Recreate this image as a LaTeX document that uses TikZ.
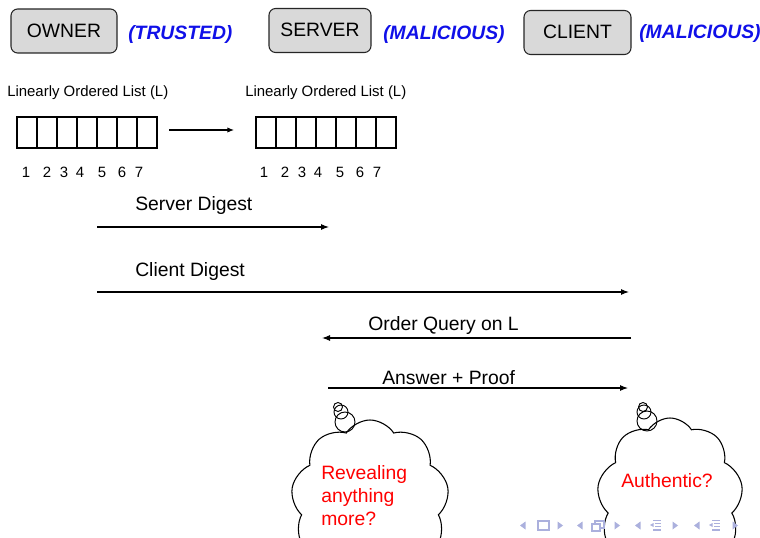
\documentclass[tikz,border=0pt]{standalone}
\usepackage{fontspec}
\setmainfont{Liberation Sans}
\usetikzlibrary{arrows.meta,shapes.symbols}
\definecolor{boxgray}{HTML}{D9D9D9}
\definecolor{tagblue}{HTML}{1010E8}
\definecolor{navblue}{HTML}{ABB0DD}
\begin{document}
\begin{tikzpicture}[x=0.75pt,y=-0.75pt,
  party/.style={draw=black!85,fill=boxgray,rounded corners=5pt,line width=0.8pt,
    minimum width=106*0.75pt,minimum height=44*0.75pt,inner sep=0pt,
    font=\fontsize{14.5}{16}\selectfont},
  tag/.style={text=tagblue,font=\fontsize{14.5}{16}\selectfont\bfseries\itshape,inner sep=0pt},
  lbl/.style={font=\fontsize{14.5}{16}\selectfont,inner sep=0pt},
  small/.style={font=\fontsize{11.2}{13}\selectfont,inner sep=0pt},
  cell/.style={draw,line width=0.8pt,minimum width=20*0.75pt,minimum height=31*0.75pt,inner sep=0pt},
  msg/.style={line width=0.8pt,-{Latex[length=6pt,width=4.5pt]}},
  thought/.style={cloud,cloud puffs=9,cloud puff arc=115,draw,fill=white,line width=0.8pt},
  bubble/.style={circle,draw,line width=0.7pt,inner sep=0pt},
  think/.style={text=red,font=\fontsize{14.5}{17.3}\selectfont,align=left,inner sep=0pt},
  nav/.style={navblue}]
\useasboundingbox (0,0) rectangle (760,538);
\clip (0,0) rectangle (760,538);

% parties and their roles
\node[party] (owner) at (64,31) {\raisebox{-2pt}{OWNER}};
\node[tag,anchor=west] (trusted) at (128,35) {(TRUSTED)};
\node[party,minimum width=102*0.75pt] (server) at (320,30.5) {\raisebox{0.5pt}{SERVER}};
\node[tag,anchor=west] (mal1) at (383,35) {(MALICIOUS)};
\node[party,minimum width=107*0.75pt] (client) at (577.5,32.5) {\raisebox{1pt}{CLIENT}};
\node[tag,anchor=west] (mal2) at (639,34) {(MALICIOUS)};

% the list L at the owner and at the server
\node[small,anchor=west] (lab1) at (7,92.5) {Linearly Ordered List (L)};
\node[small,anchor=west] (lab2) at (245,92.5) {Linearly Ordered List (L)};
\foreach \i in {1,...,7} {
  \node[cell] (a\i) at (7+\i*20,132.5) {};
  \node[cell] (b\i) at (246+\i*20,132.5) {};
}
\foreach \i/\x in {1/26,2/47,3/64,4/80,5/102,6/122,7/139} {
  \node[small] (na\i) at (\x,172) {\i};
  \node[small] (nb\i) at (\x+238,172) {\i};
}
\coordinate (c1) at (169,130);
\coordinate (c2) at (234,130);
\draw[line width=0.8pt,-{Latex[length=5pt,width=4pt]}] (c1) -- (c2);

% protocol messages
\node[lbl,anchor=west] (sd) at (135,205.5) {Server Digest};
\coordinate (sd1) at (97,227);  \coordinate (sd2) at (329,227);
\draw[msg] (sd1) -- (sd2);
\node[lbl,anchor=west] (cd) at (135,271.5) {Client Digest};
\coordinate (cd1) at (97,292);  \coordinate (cd2) at (629,292);
\draw[msg] (cd1) -- (cd2);
\node[lbl,anchor=west] (oq) at (368,325.5) {Order Query on L};
\coordinate (oq1) at (631,338); \coordinate (oq2) at (322,338);
\draw[msg] (oq1) -- (oq2);
\node[lbl,anchor=west] (ap) at (382,378) {Answer + Proof};
\coordinate (ap1) at (328,388); \coordinate (ap2) at (628,388);
\draw[msg] (ap1) -- (ap2);

% thought clouds
\node[thought,minimum width=158*0.75pt,minimum height=164*0.75pt] (sc) at (370,502) {};
\node[bubble,minimum size=20*0.75pt] (sb3) at (345,422) {};
\node[bubble,minimum size=14*0.75pt] (sb2) at (341,412) {};
\node[bubble,minimum size=9*0.75pt] (sb1) at (338,407) {};
\node[think,anchor=north west] (st) at (321,465) {Revealing\\anything\\more?};

\node[thought,minimum width=146*0.75pt,minimum height=164*0.75pt] (cc) at (670,500) {};
\node[bubble,minimum size=20*0.75pt] (cb3) at (647,421) {};
\node[bubble,minimum size=14*0.75pt] (cb2) at (644,412) {};
\node[bubble,minimum size=9*0.75pt] (cb1) at (643,407) {};
\node[think] (ct) at (667,481) {Authentic?};

% navigation symbols
\foreach \x in {523,580,638,697} \fill[nav] (\x-3,525.5) -- (\x+2.5,521.5) -- (\x+2.5,529.5) -- cycle;
\foreach \x in {560,617,675,735} \fill[nav] (\x+3,525.5) -- (\x-2.5,521.5) -- (\x-2.5,529.5) -- cycle;
\draw[nav,line width=1pt] (538,521) rectangle (549,530);
\draw[nav,line width=1pt] (592,524) rectangle (600,531);
\draw[nav,line width=1pt] (595,524) -- (595,521) -- (604,521) -- (604,528) -- (600,528);
\foreach \x in {657,716} {
  \draw[nav,line width=0.9pt] (\x-4,520.5) -- (\x+4,520.5) (\x-2,523.5) -- (\x+4,523.5)
    (\x-2,526.5) -- (\x+4,526.5) (\x-4,530) -- (\x+4,530);
  \fill[nav] (\x-7,525) -- (\x-3.5,523) -- (\x-3.5,527) -- cycle;
}
\end{tikzpicture}
\end{document}
